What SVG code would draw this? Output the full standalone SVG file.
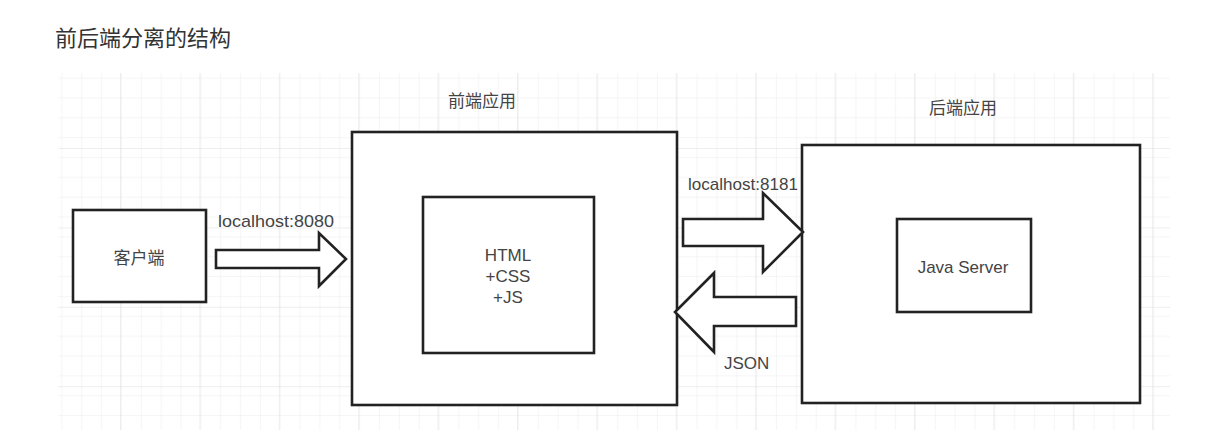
<svg xmlns="http://www.w3.org/2000/svg" width="1221" height="448" viewBox="0 0 1221 448">
<style>
.box{fill:#fff;stroke:#222;stroke-width:2.6}
.arrow{fill:#fff;stroke:#222;stroke-width:2.6;stroke-linejoin:miter}
.lbl{font-family:"Liberation Sans","Noto Sans CJK SC",sans-serif;font-size:17px;fill:#444}
.title{font-family:"Noto Sans CJK SC","Liberation Sans",sans-serif;font-size:22px;fill:#333}
</style>
<defs>
<pattern id="minor" x="120" y="148" width="19.85" height="19.85" patternUnits="userSpaceOnUse">
<path d="M0 0H19.85M0 0V19.85" fill="none" stroke="#ececec" stroke-width="1"/>
</pattern>
<pattern id="major" x="120" y="148" width="79.4" height="79.4" patternUnits="userSpaceOnUse">
<rect width="79.4" height="79.4" fill="url(#minor)"/>
<path d="M0 0H79.4M0 0V79.4" fill="none" stroke="#dedede" stroke-width="1"/>
</pattern>
</defs>
<rect width="1221" height="448" fill="#fff"/>
<rect x="58" y="73" width="1112" height="357" fill="url(#major)"/>
<text class="title" x="55" y="46">前后端分离的结构</text>
<g id="client">
<rect class="box" x="73" y="210" width="133" height="92"/>
<text class="lbl" x="139" y="264" text-anchor="middle">客户端</text>
</g>
<g id="frontend">
<text class="lbl" x="482" y="107" text-anchor="middle">前端应用</text>
<rect class="box" x="352" y="132" width="325" height="273"/>
</g>
<g id="frontend-inner">
<rect class="box" x="423" y="197" width="171" height="156"/>
<text class="lbl" x="508" y="261" text-anchor="middle">HTML</text>
<text class="lbl" x="508" y="282" text-anchor="middle">+CSS</text>
<text class="lbl" x="508" y="303" text-anchor="middle">+JS</text>
</g>
<g id="backend">
<text class="lbl" x="963" y="114" text-anchor="middle">后端应用</text>
<rect class="box" x="802" y="145" width="338" height="258"/>
</g>
<g id="java-server">
<rect class="box" x="897" y="219" width="134" height="93"/>
<text class="lbl" x="963" y="273" text-anchor="middle">Java Server</text>
</g>
<g id="connectors">
<polygon class="arrow" points="216,250 319,250 319,233 346,259 319,286 319,268 216,268"/>
<text class="lbl" x="218" y="227" textLength="116" lengthAdjust="spacingAndGlyphs">localhost:8080</text>
<polygon class="arrow" points="683,219 763,219 763,193 803,232 763,272 763,246 683,246"/>
<text class="lbl" x="688" y="190" textLength="110" lengthAdjust="spacingAndGlyphs">localhost:8181</text>
<polygon class="arrow" points="796,297 714,297 714,273 675,312 714,352 714,326 796,326"/>
<text class="lbl" x="724" y="369">JSON</text>
</g>
</svg>
